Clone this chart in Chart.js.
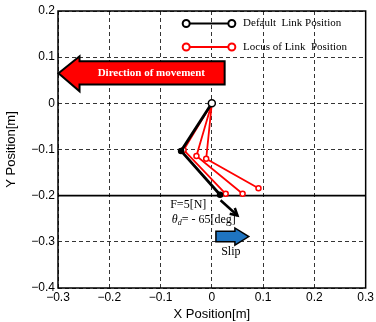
<!DOCTYPE html>
<html>
<head>
<meta charset="utf-8">
<script src="https://cdn.jsdelivr.net/npm/chart.js@4.4.0/dist/chart.umd.min.js"></script>
<style>
  html, body { margin: 0; padding: 0; background: #fff; }
  #wrap { width: 376px; height: 322px; }
</style>
</head>
<body>
<div id="wrap"><canvas id="grafico"></canvas></div>
<script>
// pontos do link (x, y) em metros
const defaultLinkX = [0, -0.060, 0.016];
const defaultLinkY = [0, -0.103, -0.198];

const locus1X = [0, -0.055, 0.027];
const locus1Y = [0, -0.101, -0.196];
const locus2X = [0, -0.030, 0.060];
const locus2Y = [0, -0.114, -0.196];
const locus3X = [0, -0.011, 0.091];
const locus3Y = [0, -0.120, -0.184];

const xTicks = [-0.3, -0.2, -0.1, 0, 0.1, 0.2, 0.3];
const yTicks = [0.2, 0.1, 0, -0.1, -0.2, -0.3, -0.4];
const groundY = -0.2;

const legendLabels = ['Default  Link Position', 'Locus of Link  Position'];

function pontos(xs, ys) {
    return xs.map((x, i) => ({ x: x, y: ys[i] }));
}

function fmt(v) {
    return String(Math.round(v * 10) / 10).replace('-', '\u2212');
}

const serif = '"Liberation Serif", "DejaVu Serif", serif';
const sans = '"Liberation Sans", "DejaVu Sans", sans-serif';

const locusStyle = {
    showLine: true,
    borderColor: '#ff0000',
    backgroundColor: '#ffffff',
    pointBorderColor: '#ff0000',
    borderWidth: 1.8,
    pointRadius: 2.5,
    pointBorderWidth: 1.5
};

const data_link = {
    datasets: [
        {
            label: legendLabels[0],
            data: pontos(defaultLinkX, defaultLinkY),
            showLine: true,
            borderColor: '#000000',
            backgroundColor: '#000000',
            pointBorderColor: '#000000',
            borderWidth: 2.8,
            pointRadius: [3.5, 2.5, 2.5],
            pointBackgroundColor: ['#ffffff', '#000000', '#000000'],
            pointBorderWidth: 1.5
        },
        Object.assign({ label: 'l3', data: pontos(locus3X, locus3Y) }, locusStyle),
        Object.assign({ label: 'l2', data: pontos(locus2X, locus2Y) }, locusStyle),
        Object.assign({ label: legendLabels[1], data: pontos(locus1X, locus1Y) }, locusStyle)
    ]
};

// desenha legenda, setas e textos por cima do grafico
const extras = {
    id: 'extras',
    beforeDatasetsDraw(chart) {
        const ctx = chart.ctx;
        const sy = chart.scales.y;
        const a = chart.chartArea;
        // linha do chao
        ctx.save();
        ctx.strokeStyle = '#000';
        ctx.lineWidth = 1.6;
        ctx.beginPath();
        ctx.moveTo(a.left, sy.getPixelForValue(groundY));
        ctx.lineTo(a.right, sy.getPixelForValue(groundY));
        ctx.stroke();
        ctx.restore();
    },
    afterDraw(chart) {
        const ctx = chart.ctx;
        const sx = chart.scales.x, sy = chart.scales.y;
        const X = v => sx.getPixelForValue(v);
        const Y = v => sy.getPixelForValue(v);
        ctx.save();

        // legenda
        const rows = [[0.173, '#000000', legendLabels[0]], [0.122, '#ff0000', legendLabels[1]]];
        rows.forEach(r => {
            const y = Y(r[0]);
            ctx.strokeStyle = r[1];
            ctx.lineWidth = 2;
            ctx.beginPath();
            ctx.moveTo(X(-0.05), y);
            ctx.lineTo(X(0.039), y);
            ctx.stroke();
            [X(-0.05), X(0.039)].forEach(px => {
                ctx.beginPath();
                ctx.arc(px, y, 3.5, 0, Math.PI * 2);
                ctx.fillStyle = '#fff';
                ctx.fill();
                ctx.lineWidth = 2;
                ctx.stroke();
            });
            ctx.fillStyle = '#000';
            ctx.font = '11px ' + serif;
            ctx.textBaseline = 'middle';
            ctx.textAlign = 'left';
            ctx.fillText(r[2], X(0.061), y);
        });

        // seta vermelha
        ctx.beginPath();
        ctx.moveTo(X(-0.299), Y(0.065));
        ctx.lineTo(X(-0.258), Y(0.102));
        ctx.lineTo(X(-0.258), Y(0.091));
        ctx.lineTo(X(0.025), Y(0.091));
        ctx.lineTo(X(0.025), Y(0.041));
        ctx.lineTo(X(-0.258), Y(0.041));
        ctx.lineTo(X(-0.258), Y(0.026));
        ctx.closePath();
        ctx.fillStyle = '#ff0000';
        ctx.fill();
        ctx.strokeStyle = '#000';
        ctx.lineWidth = 2;
        ctx.lineJoin = 'miter';
        ctx.stroke();
        ctx.fillStyle = '#fff';
        ctx.font = 'bold 11px ' + serif;
        ctx.textAlign = 'center';
        ctx.textBaseline = 'middle';
        ctx.fillText('Direction of movement', X(-0.118), Y(0.066));

        // seta preta (forca)
        ctx.strokeStyle = '#000';
        ctx.lineWidth = 2.5;
        ctx.lineCap = 'butt';
        const x0 = X(0.017), y0 = Y(-0.21), x1 = X(0.05), y1 = Y(-0.243);
        ctx.beginPath();
        ctx.moveTo(x0, y0);
        ctx.lineTo(x1, y1);
        ctx.stroke();
        const ang = Math.atan2(y1 - y0, x1 - x0);
        ctx.beginPath();
        ctx.moveTo(x1 - 8 * Math.cos(ang - 0.5), y1 - 8 * Math.sin(ang - 0.5));
        ctx.lineTo(x1, y1);
        ctx.lineTo(x1 - 8 * Math.cos(ang + 0.5), y1 - 8 * Math.sin(ang + 0.5));
        ctx.stroke();

        // seta azul (slip)
        ctx.beginPath();
        ctx.moveTo(X(0.008), Y(-0.277));
        ctx.lineTo(X(0.045), Y(-0.277));
        ctx.lineTo(X(0.045), Y(-0.270));
        ctx.lineTo(X(0.072), Y(-0.2885));
        ctx.lineTo(X(0.045), Y(-0.307));
        ctx.lineTo(X(0.045), Y(-0.300));
        ctx.lineTo(X(0.008), Y(-0.300));
        ctx.closePath();
        ctx.fillStyle = '#1f74c0';
        ctx.fill();
        ctx.lineWidth = 1.5;
        ctx.stroke();

        // textos
        ctx.fillStyle = '#000';
        ctx.font = '12px ' + serif;
        ctx.textAlign = 'center';
        ctx.fillText('F=5[N]', X(-0.046), Y(-0.22));
        ctx.fillText('Slip', X(0.037), Y(-0.322));
        ctx.textAlign = 'left';
        let tx = X(-0.078);
        const ty = Y(-0.253);
        ctx.font = 'italic 12px ' + serif;
        ctx.fillText('\u03b8', tx, ty);
        tx += ctx.measureText('\u03b8').width;
        ctx.font = 'italic 8px ' + serif;
        ctx.fillText('d', tx, ty + 3);
        tx += ctx.measureText('d').width;
        ctx.font = '12px ' + serif;
        ctx.fillText('= - 65[deg]', tx, ty);

        // borda
        const a = chart.chartArea;
        ctx.strokeStyle = '#000';
        ctx.lineWidth = 1.5;
        ctx.strokeRect(a.left, a.top, a.right - a.left, a.bottom - a.top);
        ctx.restore();
    }
};

const gridStyle = {
    color: '#000',
    lineWidth: 0.8,
    drawTicks: false
};

const config_link = {
    type: 'scatter',
    data: data_link,
    plugins: [extras],
    options: {
        responsive: true,
        maintainAspectRatio: false,
        animation: false,
        layout: { padding: { top: 11, right: 8, left: 0, bottom: 0 } },
        scales: {
            x: {
                min: -0.3,
                max: 0.3,
                afterBuildTicks: s => { s.ticks = xTicks.map(v => ({ value: v })); },
                afterFit: s => { s.height = 34; },
                grid: gridStyle,
                border: { display: false, dash: [4, 3] },
                ticks: {
                    color: '#000',
                    padding: 2,
                    maxRotation: 0,
                    font: { size: 12, family: sans },
                    callback: v => fmt(v)
                },
                title: {
                    display: true,
                    text: 'X Position[m]',
                    color: '#000',
                    padding: 0,
                    font: { size: 13, family: sans }
                }
            },
            y: {
                min: -0.4,
                max: 0.2,
                afterBuildTicks: s => { s.ticks = yTicks.map(v => ({ value: v })); },
                afterFit: s => { s.width = 58; },
                grid: gridStyle,
                border: { display: false, dash: [4, 3] },
                ticks: {
                    color: '#000',
                    padding: 3,
                    font: { size: 12, family: sans },
                    callback: v => fmt(v)
                },
                title: {
                    display: true,
                    text: 'Y Position[m]',
                    color: '#000',
                    padding: 4,
                    font: { size: 13, family: sans }
                }
            }
        },
        plugins: {
            legend: { display: false },
            tooltip: { enabled: false }
        }
    }
};

const grafico = new Chart(document.getElementById('grafico'), config_link);
</script>
</body>
</html>
